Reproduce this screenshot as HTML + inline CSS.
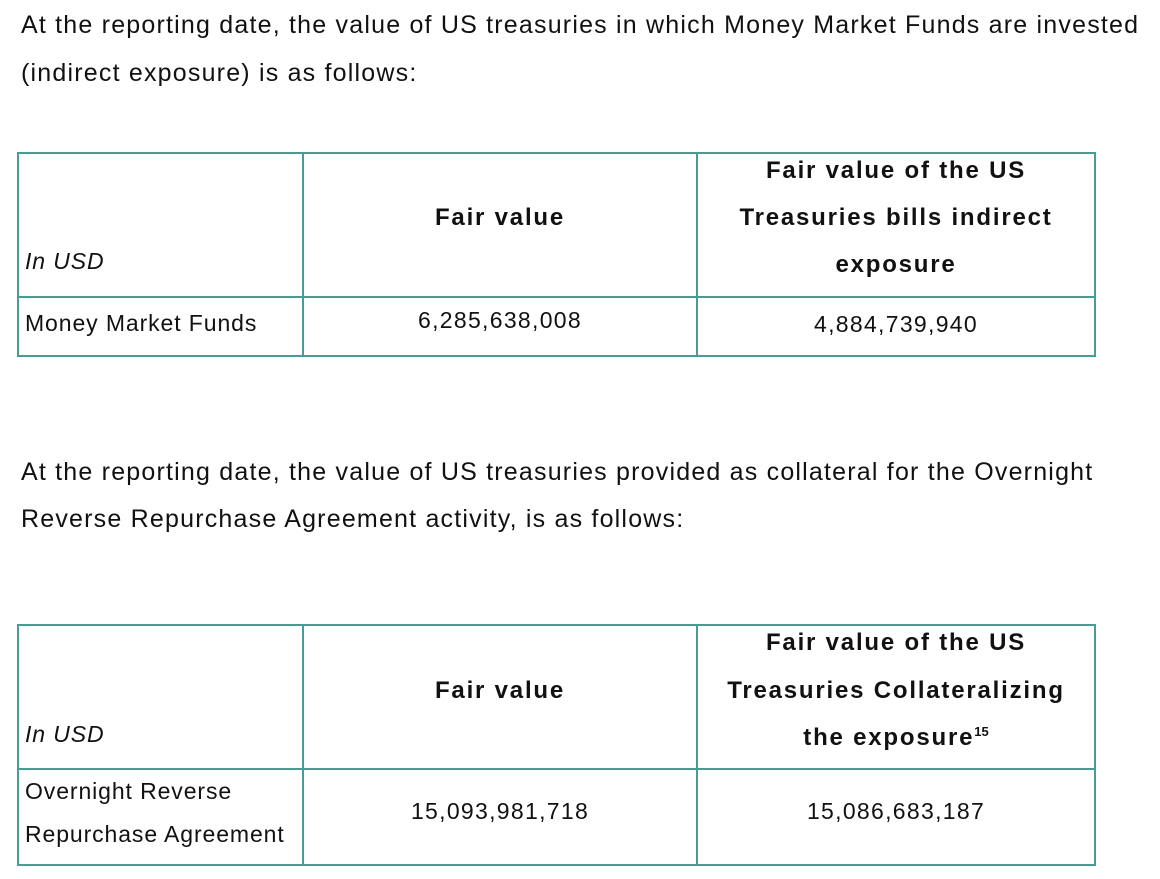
<!DOCTYPE html>
<html><head><style>
body{margin:0;width:1160px;height:879px;background:#fff;font-family:"Liberation Sans",sans-serif;color:#111;position:relative;overflow:hidden}
.t{position:absolute;white-space:nowrap}
.p{font-size:25px;left:21px;letter-spacing:1.2px}
.b{position:absolute;background:#4a9a96}
.c{position:absolute;font-size:23px;letter-spacing:1.3px;text-align:center;white-space:nowrap;transform:translateX(-50%)}
.r{font-size:23px;letter-spacing:0.9px}
.h{font-weight:bold;font-size:24px;letter-spacing:1.8px}
</style></head><body>
<div class="t p" style="top:11px">At the reporting date, the value of US treasuries in which Money Market Funds are invested</div>
<div class="t p" style="top:59px">(indirect exposure) is as follows:</div>

<div class="b" style="left:17px;top:152px;width:1079px;height:2px"></div>
<div class="b" style="left:17px;top:296px;width:1079px;height:2px"></div>
<div class="b" style="left:17px;top:355px;width:1079px;height:2px"></div>
<div class="b" style="left:17px;top:152px;width:2px;height:205px"></div>
<div class="b" style="left:302px;top:152px;width:2px;height:205px"></div>
<div class="b" style="left:696px;top:152px;width:2px;height:205px"></div>
<div class="b" style="left:1094px;top:152px;width:2px;height:205px"></div>
<div class="t r" style="left:25px;top:248px;font-style:italic">In USD</div>
<div class="c h" style="left:500px;top:204px">Fair value</div>
<div class="c h" style="left:896px;top:157px">Fair value of the US</div>
<div class="c h" style="left:896px;top:204px">Treasuries bills indirect</div>
<div class="c h" style="left:896px;top:251px">exposure</div>
<div class="t r" style="left:25px;top:310px">Money Market Funds</div>
<div class="c" style="left:500px;top:307px">6,285,638,008</div>
<div class="c" style="left:896px;top:311px">4,884,739,940</div>

<div class="t p" style="top:458px">At the reporting date, the value of US treasuries provided as collateral for the Overnight</div>
<div class="t p" style="top:505px">Reverse Repurchase Agreement activity, is as follows:</div>

<div class="b" style="left:17px;top:624px;width:1079px;height:2px"></div>
<div class="b" style="left:17px;top:768px;width:1079px;height:2px"></div>
<div class="b" style="left:17px;top:864px;width:1079px;height:2px"></div>
<div class="b" style="left:17px;top:624px;width:2px;height:242px"></div>
<div class="b" style="left:302px;top:624px;width:2px;height:242px"></div>
<div class="b" style="left:696px;top:624px;width:2px;height:242px"></div>
<div class="b" style="left:1094px;top:624px;width:2px;height:242px"></div>
<div class="t r" style="left:25px;top:721px;font-style:italic">In USD</div>
<div class="c h" style="left:500px;top:677px">Fair value</div>
<div class="c h" style="left:896px;top:629px">Fair value of the US</div>
<div class="c h" style="left:896px;top:677px">Treasuries Collateralizing</div>
<div class="c h" style="left:896px;top:724px">the exposure<sup style="font-size:13px;letter-spacing:0">15</sup></div>
<div class="t r" style="left:25px;top:778px">Overnight Reverse</div>
<div class="t r" style="left:25px;top:821px">Repurchase Agreement</div>
<div class="c" style="left:500px;top:798px">15,093,981,718</div>
<div class="c" style="left:896px;top:798px">15,086,683,187</div>
</body></html>
